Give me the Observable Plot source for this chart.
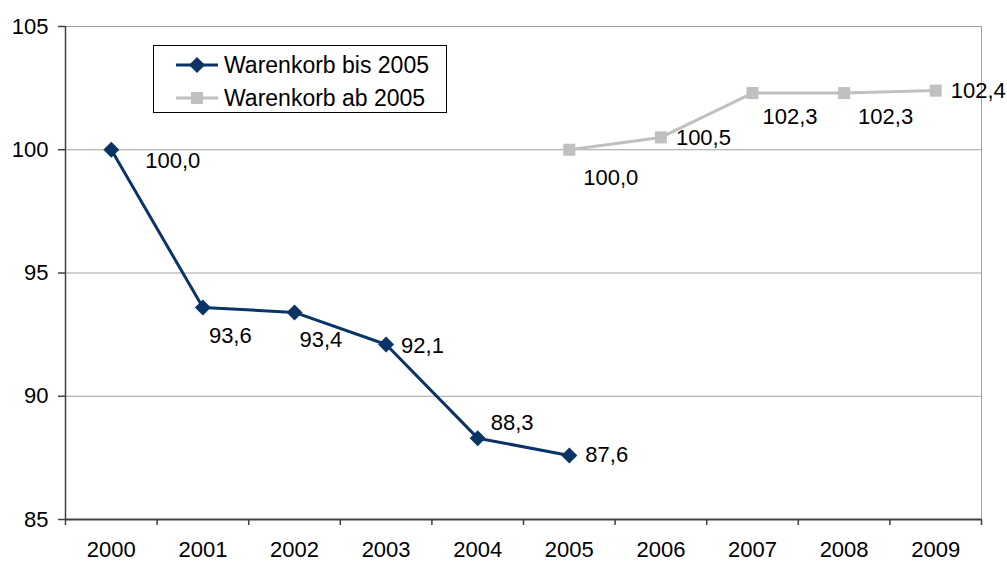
<!DOCTYPE html>
<html><head><meta charset="utf-8">
<script src="https://cdn.jsdelivr.net/npm/d3@7"></script>
<script src="https://cdn.jsdelivr.net/npm/@observablehq/plot@0.6"></script>
<style>
body{margin:0;background:#fff;font-family:"Liberation Sans",Arial,sans-serif;}
#wrap{position:relative;width:1007px;height:562px;}
#legend{position:absolute;left:153px;top:45px;width:292px;height:66px;border:1px solid #000;background:#fff;}
.row{position:absolute;left:22px;height:30px;display:flex;align-items:center;font-size:23px;color:#000;white-space:nowrap;}
.row svg{margin-right:6px;}
</style></head>
<body><div id="wrap"><div id="legend"></div></div>
<script>
const years = [2000, 2001, 2002, 2003, 2004, 2005, 2006, 2007, 2008, 2009];
const seriesNames = ["Warenkorb bis 2005", "Warenkorb ab 2005"];
const oldYears = [2000, 2001, 2002, 2003, 2004, 2005];
const oldValues = [100.0, 93.6, 93.4, 92.1, 88.3, 87.6];
const newYears = [2005, 2006, 2007, 2008, 2009];
const newValues = [100.0, 100.5, 102.3, 102.3, 102.4];
const yTicks = [85, 90, 95, 100, 105];

// layout: label offsets (dx, dy) in pixels for each point
const oldLabelOffsets = [[34, 11], [6, 28], [5, 28], [15, 1], [13, -15], [16, 0]];
const newLabelOffsets = [[14, 28], [15, 1], [10, 24], [14, 24], [15, 0]];

const colorOld = "#0a3366";
const colorNew = "#c0c0c0";
const fmt = v => d3.format(".1f")(v).replace(".", ",");

const oldData = oldYears.map((y, i) => ({year: y, value: oldValues[i]}));
const newData = newYears.map((y, i) => ({year: y, value: newValues[i]}));
const boundaries = years.map(y => y - 0.5).concat([years[years.length - 1] + 0.5]);

const labelMarks = [];
oldData.forEach((d, i) => labelMarks.push(Plot.text([d], {x: "year", y: "value", text: d => fmt(d.value), textAnchor: "start", dx: oldLabelOffsets[i][0], dy: oldLabelOffsets[i][1], fill: "#000"})));
newData.forEach((d, i) => labelMarks.push(Plot.text([d], {x: "year", y: "value", text: d => fmt(d.value), textAnchor: "start", dx: newLabelOffsets[i][0], dy: newLabelOffsets[i][1], fill: "#000"})));

const chart = Plot.plot({
  width: 1007,
  height: 562,
  marginLeft: 65,
  marginRight: 26,
  marginTop: 26,
  marginBottom: 43,
  style: {fontSize: "22px", fontFamily: "Liberation Sans, Arial, sans-serif", background: "transparent", color: "#000"},
  x: {type: "linear", domain: [boundaries[0], boundaries[boundaries.length - 1]]},
  y: {domain: [85, 105]},
  marks: [
    Plot.ruleY(yTicks.filter(t => t > 85), {stroke: "#a0a0a0", strokeWidth: 1}),
    Plot.ruleX([boundaries[boundaries.length - 1]], {stroke: "#a0a0a0", strokeWidth: 1}),
    Plot.axisX({ticks: boundaries, tickFormat: () => "", tickSize: 6, stroke: "#404040", strokeWidth: 1.5, label: null}),
    Plot.axisX({ticks: years, tickFormat: d => String(d), tickSize: 0, tickPadding: 22, label: null}),
    Plot.axisY({ticks: yTicks, tickSize: 7, tickPadding: 10, stroke: "#404040", strokeWidth: 1.5, label: null}),
    Plot.ruleX([boundaries[0]], {stroke: "#404040", strokeWidth: 1.5}),
    Plot.ruleY([85], {stroke: "#404040", strokeWidth: 2}),
    Plot.line(newData, {x: "year", y: "value", stroke: colorNew, strokeWidth: 3}),
    Plot.dot(newData, {x: "year", y: "value", symbol: "square", fill: colorNew, r: 6.8}),
    Plot.line(oldData, {x: "year", y: "value", stroke: colorOld, strokeWidth: 3}),
    Plot.dot(oldData, {x: "year", y: "value", symbol: "diamond2", fill: colorOld, stroke: "none", r: 7.2}),
    ...labelMarks
  ]
});
document.getElementById("wrap").prepend(chart);

const legend = document.getElementById("legend");
const swatches = [
  `<svg width="42" height="18"><line x1="0" y1="9" x2="42" y2="9" stroke="${colorOld}" stroke-width="3"/><path d="M21,1 L29,9 L21,17 L13,9 Z" fill="${colorOld}"/></svg>`,
  `<svg width="42" height="18"><line x1="0" y1="9" x2="42" y2="9" stroke="${colorNew}" stroke-width="3"/><rect x="15" y="3" width="12" height="12" fill="${colorNew}"/></svg>`
];
seriesNames.forEach((name, i) => {
  const row = document.createElement("div");
  row.className = "row";
  row.style.top = (i === 0 ? 4 : 37) + "px";
  row.innerHTML = swatches[i] + `<span>${name}</span>`;
  legend.appendChild(row);
});
</script>
</body></html>
